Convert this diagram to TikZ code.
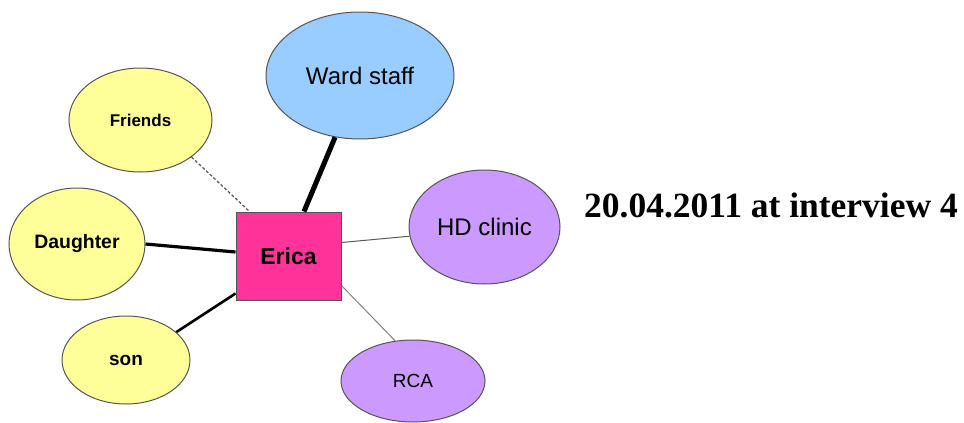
\documentclass[tikz,border=0pt]{standalone}
\usepackage{fontspec}
\setmainfont{Liberation Sans}
\newfontfamily\titlefont{Liberation Serif}
\usetikzlibrary{shapes.geometric,calc}
\definecolor{kinyellow}{HTML}{FFFF99}
\definecolor{kinblue}{HTML}{99CCFF}
\definecolor{kinpurple}{HTML}{CC99FF}
\definecolor{kinpink}{HTML}{FF3399}
\definecolor{kinedge}{HTML}{555555}
\tikzset{
  bubble/.style={ellipse, draw=kinedge, line width=1pt, inner sep=0pt},
  person/.style={rectangle, draw=kinedge, line width=1pt, fill=kinpink, inner sep=0pt,
                 minimum width=105pt, minimum height=88pt},
  tie/.style={line cap=butt},
}
\begin{document}
\begin{tikzpicture}[x=1pt,y=-1pt]
\useasboundingbox (0,0) rectangle (964,423);

% central person
\node[person, font=\fontsize{23}{26}\selectfont\bfseries] (erica) at (288.5,256) {Erica};

% surrounding network
\node[bubble, fill=kinblue, minimum width=188pt, minimum height=127pt,
      font=\fontsize{24}{27}\selectfont] (ward) at (360,75.5) {Ward staff};
\node[bubble, fill=kinyellow, minimum width=143pt, minimum height=104pt,
      font=\fontsize{17}{20}\selectfont\bfseries] (friends) at (140.5,120) {Friends};
\node[bubble, fill=kinyellow, minimum width=136pt, minimum height=112pt,
      font=\fontsize{19.4}{22}\selectfont\bfseries] (daughter) at (77,244) {Daughter};
\node[bubble, fill=kinyellow, minimum width=128pt, minimum height=88pt,
      font=\fontsize{19}{22}\selectfont\bfseries] (son) at (126,360) {son};
\node[bubble, fill=kinpurple, minimum width=151pt, minimum height=114pt,
      font=\fontsize{24}{27}\selectfont] (hd) at (484.5,227) {HD clinic};
\node[bubble, fill=kinpurple, minimum width=144pt, minimum height=82pt,
      font=\fontsize{19}{22}\selectfont] (rca) at (413,381) {RCA};

% ties, weighted by strength
\draw[tie, line width=5pt] (ward.-112) -- ($(erica.north)+(15.5,0)$);
\draw[tie, line width=3.2pt] (daughter.east) -- ($(erica.west)+(0,-4)$);
\draw[tie, line width=2.6pt] (son.29) -- ($(erica.south west)+(0,-7)$);
\draw[tie, line width=1.2pt, kinedge, dashed, dash pattern=on 3pt off 2pt]
  (friends.-36) -- ($(erica.north west)+(14,0)$);
\draw[tie, line width=1pt, black!65] (hd.187) -- ($(erica.north east)+(0,31)$);
\draw[tie, line width=1pt, black!50] (rca.114) -- ($(erica.south east)+(0,-15)$);

% date label
\node[anchor=base west, inner sep=0pt, font=\titlefont\fontsize{35.5}{40}\selectfont\bfseries]
  (date) at (584,217) {20.04.2011 at interview 4};
\end{tikzpicture}
\end{document}
